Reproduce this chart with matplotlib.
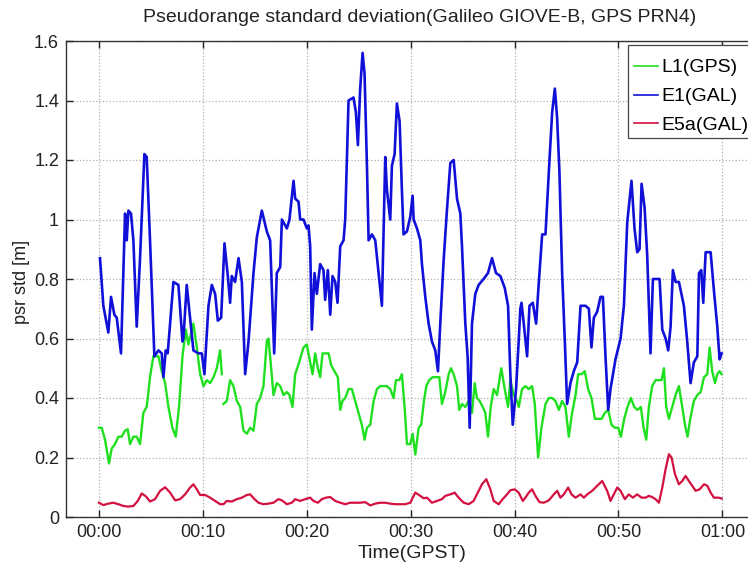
import numpy as np
import matplotlib
matplotlib.use("Agg")
import matplotlib.pyplot as plt
from matplotlib.ticker import FixedLocator, FixedFormatter
from matplotlib.patches import Rectangle

plt.rcParams['font.family'] = ['Liberation Sans', 'DejaVu Sans']

# ---- data (time in minutes after 00:00 GPST, std in metres) ----
e1_t = [0.14, 0.46, 0.94, 1.20, 1.52, 1.75, 2.16, 2.55, 2.71, 2.87, 3.12, 3.35, 3.67, 3.99,
        4.41, 4.63, 4.95, 5.37, 5.76, 6.08, 6.24, 6.46, 6.65, 6.88, 7.20, 7.68, 8.07, 8.16,
        8.48, 8.80, 9.12, 9.61, 9.93, 10.18, 10.57, 10.89, 11.21, 11.47, 11.79, 12.11, 12.43,
        12.65, 12.81, 13.13, 13.46, 13.78, 14.10, 14.42, 14.90, 15.22, 15.70, 16.18, 16.50,
        16.89, 17.14, 17.47, 17.63, 18.11, 18.36, 18.75, 18.91, 19.23, 19.39, 19.71, 20.03,
        20.19, 20.35, 20.51, 20.77, 20.99, 21.31, 21.63, 21.79, 22.05, 22.28, 22.50, 22.76,
        22.98, 23.24, 23.56, 23.72, 24.04, 24.52, 24.75, 24.94, 25.16, 25.39, 25.58, 25.81,
        25.97, 26.29, 26.61, 26.93, 27.25, 27.57, 27.73, 28.05, 28.21, 28.47, 28.69, 28.95,
        29.17, 29.33, 29.66, 29.98, 30.20, 30.30, 30.62, 30.94, 31.10, 31.42, 31.74, 32.06,
        32.38, 32.64, 32.86, 33.18, 33.50, 33.83, 34.15, 34.47, 34.79, 34.95, 35.27, 35.49,
        35.69, 35.91, 36.23, 36.55, 37.03, 37.45, 37.84, 38.22, 38.64, 39.06, 39.38, 39.60,
        39.83, 40.15, 40.40, 40.56, 40.67, 40.89, 41.21, 41.44, 41.76, 42.08, 42.34, 42.66,
        42.98, 43.30, 43.62, 43.88, 44.10, 44.32, 44.58, 44.84, 45.06, 45.38, 45.70, 46.03,
        46.35, 46.83, 47.15, 47.40, 47.63, 47.95, 48.27, 48.50, 48.75, 49.01, 49.23, 49.71,
        50.20, 50.52, 50.84, 51.25, 51.54, 51.80, 52.02, 52.22, 52.51, 52.76, 53.08, 53.31,
        53.56, 53.95, 54.21, 54.53, 54.78, 55.01, 55.23, 55.49, 55.81, 56.29, 56.61, 56.93,
        57.25, 57.58, 57.74, 57.96, 58.15, 58.38, 58.86, 59.18, 59.50, 59.72, 59.92]
e1_std = [0.87, 0.71, 0.62, 0.74, 0.68, 0.67, 0.55, 1.02, 0.93, 1.03, 1.02, 0.93, 0.64, 0.87,
          1.22, 1.21, 0.93, 0.54, 0.56, 0.55, 0.47, 0.56, 0.55, 0.65, 0.79, 0.78, 0.59, 0.60,
          0.78, 0.67, 0.56, 0.55, 0.55, 0.48, 0.71, 0.78, 0.75, 0.66, 0.67, 0.92, 0.81,
          0.72, 0.81, 0.79, 0.87, 0.79, 0.48, 0.59, 0.82, 0.94, 1.03, 0.96, 0.93,
          0.55, 0.82, 0.84, 1.00, 0.97, 1.00, 1.13, 1.07, 1.06, 1.00, 1.00, 0.97,
          0.98, 0.91, 0.63, 0.82, 0.75, 0.85, 0.83, 0.73, 0.83, 0.68, 0.81, 0.79,
          0.72, 0.91, 0.93, 1.00, 1.40, 1.41, 1.36, 1.25, 1.44, 1.56, 1.49, 1.18,
          0.93, 0.95, 0.93, 0.82, 0.71, 1.21, 1.10, 1.00, 1.18, 1.22, 1.39, 1.33,
          1.10, 0.95, 0.96, 1.01, 1.08, 1.00, 0.97, 0.93, 0.85, 0.74, 0.65, 0.59,
          0.56, 0.49, 0.65, 0.86, 1.03, 1.19, 1.20, 1.07, 1.02, 0.91, 0.65, 0.54,
          0.30, 0.65, 0.75, 0.78, 0.80, 0.82, 0.87, 0.82, 0.81, 0.77, 0.71, 0.48,
          0.31, 0.43, 0.59, 0.70, 0.72, 0.65, 0.54, 0.71, 0.72, 0.65, 0.79, 0.95,
          0.95, 1.16, 1.36, 1.44, 1.34, 1.16, 0.82, 0.59, 0.38, 0.45, 0.49, 0.52,
          0.71, 0.71, 0.70, 0.57, 0.67, 0.69, 0.74, 0.74, 0.54, 0.36, 0.43, 0.53,
          0.60, 0.71, 0.99, 1.13, 0.97, 0.89, 0.90, 1.12, 1.04, 0.88, 0.55, 0.80,
          0.80, 0.80, 0.63, 0.60, 0.56, 0.64, 0.83, 0.79, 0.79, 0.71, 0.59, 0.45,
          0.52, 0.54, 0.82, 0.83, 0.72, 0.89, 0.89, 0.76, 0.64, 0.53, 0.55]

# L1 has a short data gap near 00:12 (nan)
l1_t = [0.04, 0.30, 0.62, 1.01, 1.26, 1.58, 1.91, 2.23, 2.55, 2.80, 3.03, 3.35, 3.67, 3.99,
        4.31, 4.63, 4.95, 5.27, 5.76, 6.08, 6.40, 6.72, 7.10, 7.42, 7.74, 8.07, 8.39, 8.64,
        9.12, 9.45, 9.77, 10.09, 10.41, 10.73, 11.05, 11.37, 11.69, 11.85, 11.93, 12.01,
        12.33, 12.65, 12.97, 13.30, 13.62, 13.94, 14.26, 14.58, 14.90, 15.22, 15.54, 15.86,
        16.18, 16.34, 16.60, 16.82, 17.14, 17.47, 17.79, 18.11, 18.36, 18.65, 18.91, 19.29,
        19.71, 20.03, 20.13, 20.35, 20.58, 20.83, 21.09, 21.31, 21.54, 21.86, 22.12, 22.37,
        22.69, 23.01, 23.24, 23.46, 23.72, 24.04, 24.36, 24.68, 25.00, 25.32, 25.58, 25.81,
        26.13, 26.45, 26.77, 27.09, 27.41, 27.73, 28.05, 28.37, 28.60, 28.92, 29.17, 29.43,
        29.66, 29.98, 30.20, 30.46, 30.78, 31.03, 31.29, 31.52, 31.80, 32.13, 32.45, 32.77,
        33.02, 33.34, 33.67, 33.89, 34.15, 34.47, 34.69, 34.95, 35.27, 35.59, 35.91, 36.17,
        36.39, 36.65, 36.94, 37.19, 37.45, 37.71, 38.00, 38.32, 38.73, 39.06, 39.38, 39.60,
        39.92, 40.24, 40.41, 40.73, 41.05, 41.37, 41.69, 41.95, 42.27, 42.59, 42.98, 43.30,
        43.62, 43.94, 44.26, 44.58, 44.90, 45.22, 45.54, 45.87, 46.12, 46.44, 46.76, 47.08,
        47.40, 47.73, 48.05, 48.37, 48.69, 49.01, 49.33, 49.65, 49.97, 50.23, 50.55, 50.87,
        51.19, 51.51, 51.83, 52.15, 52.41, 52.67, 52.92, 53.24, 53.56, 53.95, 54.14, 54.37,
        54.59, 54.85, 55.17, 55.49, 55.81, 56.13, 56.39, 56.64, 56.90, 57.25, 57.58, 57.90,
        58.22, 58.54, 58.76, 59.01, 59.28, 59.50, 59.72, 59.92]
l1_std = [0.30, 0.30, 0.26, 0.18, 0.23, 0.245, 0.27, 0.27, 0.29, 0.295, 0.245, 0.27, 0.27, 0.245,
          0.35, 0.37, 0.47, 0.54, 0.54, 0.49, 0.45, 0.37, 0.30, 0.27, 0.37, 0.54, 0.63, 0.58,
          0.65, 0.57, 0.48, 0.44, 0.46, 0.45, 0.47, 0.50, 0.56, 0.48, np.nan, 0.38,
          0.39, 0.46, 0.44, 0.39, 0.37, 0.29, 0.28, 0.30, 0.29, 0.38, 0.40, 0.44,
          0.59, 0.60, 0.50, 0.41, 0.45, 0.44, 0.41, 0.42, 0.41, 0.37, 0.48, 0.52,
          0.57, 0.58, 0.56, 0.52, 0.48, 0.55, 0.50, 0.47, 0.55, 0.55, 0.55, 0.51,
          0.49, 0.47, 0.36, 0.39, 0.40, 0.43, 0.43, 0.39, 0.35, 0.31, 0.26, 0.30,
          0.31, 0.39, 0.43, 0.44, 0.44, 0.44, 0.43, 0.40, 0.46, 0.46, 0.48, 0.37,
          0.245, 0.245, 0.28, 0.21, 0.30, 0.31, 0.39, 0.44, 0.46, 0.47, 0.47, 0.47,
          0.38, 0.42, 0.48, 0.50, 0.48, 0.44, 0.36, 0.38, 0.37, 0.39, 0.35, 0.45,
          0.40, 0.39, 0.37, 0.35, 0.27, 0.37, 0.43, 0.41, 0.50, 0.43, 0.37, 0.46,
          0.41, 0.39, 0.37, 0.43, 0.44, 0.43, 0.44, 0.38, 0.20, 0.30, 0.38, 0.40,
          0.40, 0.39, 0.36, 0.39, 0.37, 0.27, 0.35, 0.41, 0.48, 0.48, 0.49, 0.43,
          0.40, 0.33, 0.33, 0.33, 0.35, 0.36, 0.31, 0.30, 0.30, 0.27, 0.33, 0.37,
          0.40, 0.37, 0.36, 0.37, 0.30, 0.26, 0.37, 0.44, 0.46, 0.46, 0.46, 0.50,
          0.37, 0.33, 0.37, 0.41, 0.44, 0.37, 0.31, 0.27, 0.33, 0.39, 0.41, 0.42,
          0.47, 0.48, 0.57, 0.49, 0.45, 0.48, 0.49, 0.48]

e5a_t = [0.04, 0.46, 0.94, 1.42, 1.91, 2.39, 2.87, 3.35, 3.77, 4.15, 4.54, 4.95, 5.43, 5.92,
         6.40, 6.88, 7.36, 7.84, 8.32, 8.80, 9.12, 9.45, 9.77, 10.25, 10.73, 11.21, 11.69,
         12.01, 12.33, 12.81, 13.30, 13.78, 14.26, 14.58, 15.00, 15.38, 15.86, 16.34, 16.82,
         17.30, 17.63, 18.11, 18.59, 18.91, 19.39, 19.87, 20.35, 20.67, 21.09, 21.47, 21.86,
         22.28, 22.76, 23.24, 23.72, 24.20, 24.68, 25.16, 25.64, 26.13, 26.61, 27.09, 27.57,
         28.05, 28.53, 29.01, 29.49, 29.98, 30.46, 30.94, 31.26, 31.58, 32.06, 32.54, 33.02,
         33.34, 33.83, 34.24, 34.63, 35.11, 35.59, 36.07, 36.55, 36.87, 37.29, 37.68, 38.00,
         38.48, 38.86, 39.28, 39.60, 40.02, 40.40, 40.80, 41.05, 41.37, 41.69, 42.01, 42.40,
         42.82, 43.30, 43.78, 44.10, 44.42, 44.74, 45.16, 45.48, 45.87, 46.35, 46.67, 46.99,
         47.47, 47.95, 48.43, 48.91, 49.23, 49.55, 49.88, 50.20, 50.61, 50.99, 51.38, 51.80,
         52.22, 52.60, 52.92, 53.24, 53.56, 53.89, 54.21, 54.53, 54.85, 55.10, 55.43, 55.81,
         56.13, 56.45, 56.77, 57.09, 57.41, 57.80, 58.22, 58.54, 58.86, 59.18, 59.66, 59.92]
e5a_std = [0.048, 0.040, 0.045, 0.048, 0.043, 0.037, 0.035, 0.037, 0.054, 0.079, 0.070, 0.052,
           0.060, 0.088, 0.100, 0.082, 0.056, 0.060, 0.076, 0.099, 0.110, 0.093, 0.074,
           0.074, 0.065, 0.054, 0.043, 0.043, 0.054, 0.052, 0.060, 0.065, 0.074, 0.076,
           0.060, 0.048, 0.043, 0.045, 0.048, 0.060, 0.056, 0.043, 0.048, 0.060, 0.054,
           0.060, 0.065, 0.054, 0.048, 0.060, 0.065, 0.067, 0.054, 0.048, 0.043, 0.048,
           0.048, 0.048, 0.050, 0.039, 0.045, 0.048, 0.048, 0.045, 0.043, 0.043, 0.043,
           0.048, 0.082, 0.071, 0.063, 0.065, 0.048, 0.054, 0.060, 0.071, 0.076, 0.082,
           0.065, 0.048, 0.043, 0.054, 0.088, 0.110, 0.127, 0.093, 0.054, 0.043, 0.060,
           0.076, 0.090, 0.093, 0.082, 0.054, 0.065, 0.082, 0.093, 0.071, 0.050, 0.048,
           0.056, 0.076, 0.088, 0.065, 0.076, 0.099, 0.076, 0.065, 0.076, 0.065, 0.076,
           0.088, 0.105, 0.121, 0.088, 0.054, 0.076, 0.099, 0.088, 0.060, 0.076, 0.065,
           0.076, 0.065, 0.065, 0.071, 0.067, 0.060, 0.048, 0.099, 0.161, 0.211, 0.200,
           0.144, 0.110, 0.121, 0.138, 0.121, 0.105, 0.088, 0.093, 0.110, 0.105, 0.082,
           0.065, 0.065, 0.062]

x_ticks = [0, 10, 20, 30, 40, 50, 60]
x_tick_labels = ['00:00', '00:10', '00:20', '00:30', '00:40', '00:50', '01:00']
y_ticks = [0, 0.2, 0.4, 0.6, 0.8, 1.0, 1.2, 1.4, 1.6]
y_tick_labels = ['0', '0.2', '0.4', '0.6', '0.8', '1', '1.2', '1.4', '1.6']

W, H = 748, 570
fig = plt.figure(figsize=(W / 100, H / 100), dpi=100)
ax = fig.add_axes([66 / W, 53 / H, (762 - 66) / W, (517 - 41) / H])

ax.plot(l1_t, l1_std, color='#1fe01f', lw=1.7, label='L1(GPS)')
ax.plot(e1_t, e1_std, color='#1010d8', lw=1.9, label='E1(GAL)')
ax.plot(e5a_t, e5a_std, color='#d41040', lw=1.6, label='E5a(GAL)')

ax.set_xlim(-3.13, 63.8)
ax.set_ylim(0, 1.6)
ax.xaxis.set_major_locator(FixedLocator(x_ticks))
ax.xaxis.set_major_formatter(FixedFormatter(x_tick_labels))
ax.yaxis.set_major_locator(FixedLocator(y_ticks))
ax.yaxis.set_major_formatter(FixedFormatter(y_tick_labels))
ax.tick_params(direction='in', top=True, right=True, length=5, width=1,
               labelsize=13, colors='#222222', pad=5)
ax.grid(True, linestyle=':', color='#b0b0b0', linewidth=0.9)
for sp in ax.spines.values():
    sp.set_color('#333333')
    sp.set_linewidth(1.0)

fig.text(420 / W, 1 - 18 / H, 'Pseudorange standard deviation(Galileo GIOVE-B, GPS PRN4)',
         ha='center', va='center', fontsize=14, color='#222222')
fig.text(412 / W, 1 - 553 / H, 'Time(GPST)', ha='center', va='center',
         fontsize=14, color='#222222')
fig.text(21 / W, 1 - 282 / H, 'psr std [m]', ha='center', va='center', rotation=90,
         fontsize=13, color='#222222')

# legend box drawn separately so its padding can be set freely
box = Rectangle((628 / W, 1 - 138 / H), (765 - 628) / W, (138 - 45) / H,
                transform=fig.transFigure, facecolor='white', edgecolor='#444444',
                linewidth=0.9, zorder=4, clip_on=False)
ax.add_patch(box)
leg = ax.legend(loc='upper left', bbox_to_anchor=(628 / W, 1 - 53 / H),
                bbox_transform=fig.transFigure, borderaxespad=0, fontsize=14,
                handlelength=1.25, handletextpad=0.15, borderpad=0.3, labelspacing=0.58,
                frameon=False)
leg.set_zorder(5)
for line in leg.get_lines():
    line.set_linewidth(1.2)

fig.savefig('out.png', dpi=100)
